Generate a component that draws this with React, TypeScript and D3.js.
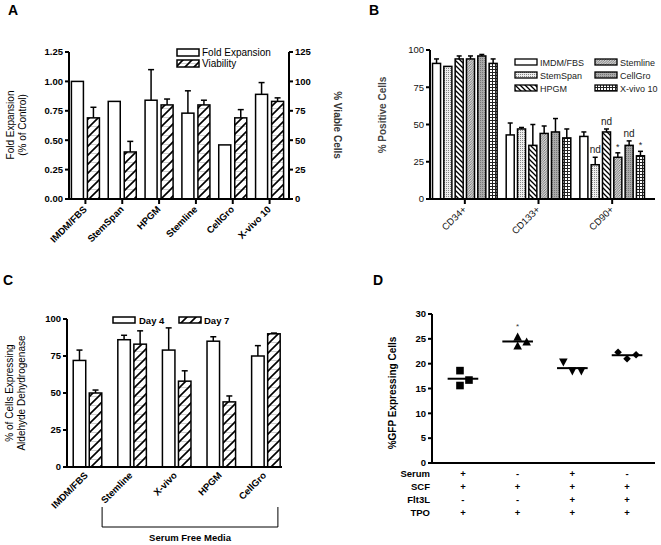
import * as d3 from 'd3';

const FONT = "'Liberation Sans', Arial, Helvetica, sans-serif";

// ---- Panel A data ----
const mediaA = ['IMDM/FBS', 'StemSpan', 'HPGM', 'Stemline', 'CellGro', 'X-vivo 10'];
const foldExp = [1.0, 0.83, 0.84, 0.73, 0.46, 0.89];
const foldErr = [0, 0, 0.26, 0.19, 0, 0.1];
const viability = [69, 40, 80, 80, 69, 83];
const viabErr = [9, 9, 5, 4, 7, 3];
const ticksA = [0, 0.25, 0.5, 0.75, 1.0, 1.25];
const ticksAR = [0, 25, 50, 75, 100, 125];

// ---- Panel B data ----
const markersB = ['CD34+', 'CD133+', 'CD90+'];
const mediaB = ['IMDM/FBS', 'StemSpan', 'HPGM', 'Stemline', 'CellGro', 'X-vivo 10'];
const cd34 = [91, 89, 94, 94, 96, 91];
const cd34Err = [3, 0, 2, 2, 1, 3];
const cd133 = [43, 47, 36, 44, 45, 41];
const cd133Err = [8, 1, 14, 5, 9, 6];
const cd90 = [42, 23, 45, 28, 36, 29];
const cd90Err = [3, 5, 2, 3, 3, 3];
const cd90Marks = ['', 'nd', 'nd', '*', 'nd', '*'];
const ticksB = [0, 25, 50, 75, 100];

// ---- Panel C data ----
const mediaC = ['IMDM/FBS', 'Stemline', 'X-vivo', 'HPGM', 'CellGro'];
const day4 = [72, 86, 79, 85, 75];
const day4Err = [7, 3, 15, 3, 7];
const day7 = [50, 83, 58, 44, 90];
const day7Err = [2, 9, 7, 4, 0.5];
const ticksC = [0, 25, 50, 75, 100];

// ---- Panel D data ----
const conditionsD = ['c1', 'c2', 'c3', 'c4'];
const gfp = [
  [18.6, 15.6, 16.7],
  [25.4, 23.6, 24.4],
  [20.3, 18.5, 18.5],
  [22.3, 21.0, 21.8],
];
const gfpSlots = [
  [-0.33, -0.33, 0.67],
  [0, 0, 1],
  [-1, 0, 1],
  [-1, 0, 1],
];
const gfpMarks = ['', '*', '', ''];
const factorNames = ['Serum', 'SCF', 'Flt3L', 'TPO'];
const serum = ['+', '-', '+', '-'];
const scf = ['+', '+', '+', '+'];
const flt3l = ['-', '-', '+', '+'];
const tpo = ['+', '+', '+', '+'];
const ticksD = [0, 5, 10, 15, 20, 25, 30];

type Scale = d3.ScaleLinear<number, number>;

function YAxis({ y, x, ticks, fmt, side = 'left', bold = true, color = '#000' }: {
  y: Scale; x: number; ticks: number[]; fmt: (v: number) => string; side?: 'left' | 'right'; bold?: boolean; color?: string;
}) {
  const d = side === 'left' ? -1 : 1;
  const [lo, hi] = y.domain();
  return (
    <g>
      <line x1={x} x2={x} y1={y(lo) + 1} y2={y(hi)} stroke="#000" strokeWidth={2} />
      {ticks.map((t) => (
        <g key={t}>
          <line x1={x} x2={x + d * 4} y1={y(t)} y2={y(t)} stroke="#000" strokeWidth={2} />
          <text x={x + d * 6} y={y(t)} dy="0.35em" fontSize={9.5} fontWeight={bold ? 'bold' : 'normal'}
            fill={color} textAnchor={side === 'left' ? 'end' : 'start'}>{fmt(t)}</text>
        </g>
      ))}
    </g>
  );
}

function Bar({ x, w, y0, y1, fill }: { x: number; w: number; y0: number; y1: number; fill: string }) {
  return <rect x={x} y={y1} width={w} height={y0 - y1} fill={fill} stroke="#000" strokeWidth={1.5} />;
}

function ErrBar({ cx, yTop, yEnd, cap = 6 }: { cx: number; yTop: number; yEnd: number; cap?: number }) {
  if (Math.abs(yTop - yEnd) < 0.5) return null;
  return (
    <g stroke="#000" strokeWidth={1.5}>
      <line x1={cx} x2={cx} y1={yTop} y2={yEnd} />
      <line x1={cx - cap / 2} x2={cx + cap / 2} y1={yEnd} y2={yEnd} />
    </g>
  );
}

function Patterns() {
  return (
    <defs>
      <pattern id="hatchA" patternUnits="userSpaceOnUse" width={9} height={9}>
        <rect width={9} height={9} fill="#fff" />
        <line x1={0} x2={9} y1={0.5} y2={0.5} stroke="#bbb" strokeWidth={0.7} />
        <path d="M0,9 L9,0 M-2,2 L2,-2 M7,11 L11,7" stroke="#000" strokeWidth={1.6} />
      </pattern>
      <pattern id="pStemSpan" patternUnits="userSpaceOnUse" width={2} height={2}>
        <rect width={2} height={2} fill="#eee" />
        <rect width={1} height={1} fill="#888" />
      </pattern>
      <pattern id="pHPGM" patternUnits="userSpaceOnUse" width={5} height={5}>
        <rect width={5} height={5} fill="#fff" />
        <path d="M0,0 L5,5 M-2,3 L2,7 M3,-2 L7,2" stroke="#000" strokeWidth={1.3} />
      </pattern>
      <pattern id="pStemline" patternUnits="userSpaceOnUse" width={2.5} height={2.5}>
        <rect width={2.5} height={2.5} fill="#d4d4d4" />
        <path d="M0,2.5 L2.5,0 M-1,1 L1,-1 M1.5,3.5 L3.5,1.5" stroke="#555" strokeWidth={0.7} />
      </pattern>
      <pattern id="pCellGro" patternUnits="userSpaceOnUse" width={2} height={2}>
        <rect width={2} height={2} fill="#aaa" />
        <rect width={1} height={1} fill="#777" />
      </pattern>
      <pattern id="pXvivo" patternUnits="userSpaceOnUse" width={3} height={3}>
        <rect width={3} height={3} fill="#fff" />
        <path d="M0,0.5 L3,0.5 M0.5,0 L0.5,3" stroke="#222" strokeWidth={1} />
      </pattern>
    </defs>
  );
}

const fillsB = ['#fff', 'url(#pStemSpan)', 'url(#pHPGM)', 'url(#pStemline)', 'url(#pCellGro)', 'url(#pXvivo)'];

function PanelA() {
  const y = d3.scaleLinear().domain([0, 1.25]).range([199, 52]);
  const yR = d3.scaleLinear().domain([0, 125]).range([199, 52]);
  const x = d3.scaleBand<string>().domain(mediaA).range([67, 288]);
  const inner = d3.scaleBand<string>().domain(['fold', 'viab']).range([0, x.bandwidth()]).paddingInner(0.25).paddingOuter(0.275);
  const bw = inner.bandwidth();
  return (
    <g>
      <text x={8} y={15} fontSize={14} fontWeight="bold">A</text>
      {mediaA.map((m, i) => {
        const x0 = x(m)!;
        const fx = x0 + inner('fold')!;
        const vx = x0 + inner('viab')!;
        return (
          <g key={m}>
            <ErrBar cx={fx + bw / 2} yTop={y(foldExp[i])} yEnd={y(foldExp[i] + foldErr[i])} />
            <ErrBar cx={vx + bw / 2} yTop={yR(viability[i])} yEnd={yR(viability[i] + viabErr[i])} />
            <Bar x={fx} w={bw} y0={y(0)} y1={y(foldExp[i])} fill="#fff" />
            <Bar x={vx} w={bw} y0={y(0)} y1={yR(viability[i])} fill="url(#hatchA)" />
            <line x1={x0 + x.bandwidth() / 2} x2={x0 + x.bandwidth() / 2} y1={199} y2={204} stroke="#000" strokeWidth={2} />
            <text transform={`translate(${x0 + x.bandwidth() / 2 + 2},${210}) rotate(-45)`} textAnchor="end"
              fontSize={9.5} fontWeight="bold">{m}</text>
          </g>
        );
      })}
      <line x1={68} x2={290} y1={199} y2={199} stroke="#000" strokeWidth={2} />
      <YAxis y={y} x={69} ticks={ticksA} fmt={d3.format('.2f')} />
      <YAxis y={yR} x={289} ticks={ticksAR} fmt={d3.format('d')} side="right" />
      <text transform="translate(14,125) rotate(-90)" textAnchor="middle" fontSize={10}>Fold Expansion</text>
      <text transform="translate(26,125) rotate(-90)" textAnchor="middle" fontSize={10}>(% of Control)</text>
      <text transform="translate(334,125) rotate(90)" textAnchor="middle" fontSize={10} fontWeight="bold" fill="#333">% Viable Cells</text>
      {/* legend */}
      <rect x={177} y={49} width={22} height={7} fill="#fff" stroke="#000" strokeWidth={1.5} />
      <text x={202} y={56} fontSize={10}>Fold Expansion</text>
      <rect x={177} y={60} width={22} height={7} fill="url(#hatchA)" stroke="#000" strokeWidth={1.5} />
      <text x={202} y={67} fontSize={10}>Viability</text>
    </g>
  );
}

function PanelB() {
  const y = d3.scaleLinear().domain([0, 100]).range([199, 50]);
  const x = d3.scaleBand<string>().domain(markersB).range([428, 649]);
  const inner = d3.scaleBand<string>().domain(mediaB).range([0, x.bandwidth()]).paddingInner(0.29).paddingOuter(0.4);
  const bw = inner.bandwidth();
  const vals = [cd34, cd133, cd90];
  const errs = [cd34Err, cd133Err, cd90Err];
  return (
    <g>
      <text x={369} y={15} fontSize={14} fontWeight="bold">B</text>
      {markersB.map((mk, gi) => {
        const x0 = x(mk)!;
        return (
          <g key={mk}>
            {mediaB.map((m, i) => {
              const bx = x0 + inner(m)!;
              const v = vals[gi][i];
              const e = errs[gi][i];
              const mark = gi === 2 ? cd90Marks[i] : '';
              return (
                <g key={m}>
                  <ErrBar cx={bx + bw / 2} yTop={y(v)} yEnd={y(v + e)} cap={5} />
                  <Bar x={bx} w={bw} y0={y(0)} y1={y(v)} fill={fillsB[i]} />
                  {mark && (
                    <text x={bx + bw / 2} y={y(v + e) - (mark === '*' ? 3 : 4)} textAnchor="middle"
                      fontSize={mark === '*' ? 9 : 10} fill="#222">{mark}</text>
                  )}
                </g>
              );
            })}
            <line x1={x0 + x.bandwidth() / 2} x2={x0 + x.bandwidth() / 2} y1={199} y2={204} stroke="#000" strokeWidth={2} />
            <text transform={`translate(${x0 + x.bandwidth() / 2 + 2},${210}) rotate(-45)`} textAnchor="end"
              fontSize={9.5} fill="#111">{mk}</text>
          </g>
        );
      })}
      <line x1={429} x2={655} y1={199} y2={199} stroke="#000" strokeWidth={2} />
      <YAxis y={y} x={430} ticks={ticksB} fmt={d3.format('d')} bold={false} color="#111" />
      <text transform="translate(386,115) rotate(-90)" textAnchor="middle" fontSize={10} fontWeight="bold" fill="#444">% Positive Cells</text>
      {mediaB.map((m, i) => {
        const col = Math.floor(i / 3);
        const row = i % 3;
        const lx = col === 0 ? 515 : 595;
        const ly = 59 + row * 13;
        return (
          <g key={m}>
            <rect x={lx} y={ly} width={22} height={6} fill={fillsB[i]} stroke="#000" strokeWidth={1.3} />
            <text x={lx + 25} y={ly + 6.5} fontSize={9} fill="#222">{m}</text>
          </g>
        );
      })}
    </g>
  );
}

function PanelC() {
  const y = d3.scaleLinear().domain([0, 100]).range([467, 319]);
  const x = d3.scaleBand<string>().domain(mediaC).range([65.2, 288.2]);
  const inner = d3.scaleBand<string>().domain(['d4', 'd7']).range([0, x.bandwidth()]).paddingInner(0.22).paddingOuter(0.5);
  const bw = inner.bandwidth();
  const cx = (m: string) => x(m)! + x.bandwidth() / 2;
  const bx0 = cx(mediaC[1]) - 30;
  const bx1 = cx(mediaC[mediaC.length - 1]) + 12;
  return (
    <g>
      <text x={3} y={285} fontSize={14} fontWeight="bold">C</text>
      {mediaC.map((m, i) => {
        const x0 = x(m)!;
        const ax = x0 + inner('d4')!;
        const bx = x0 + inner('d7')!;
        return (
          <g key={m}>
            <ErrBar cx={ax + bw / 2} yTop={y(day4[i])} yEnd={y(day4[i] + day4Err[i])} />
            <ErrBar cx={bx + bw / 2} yTop={y(day7[i])} yEnd={y(day7[i] + day7Err[i])} />
            <Bar x={ax} w={bw} y0={y(0)} y1={y(day4[i])} fill="#fff" />
            <Bar x={bx} w={bw} y0={y(0)} y1={y(day7[i])} fill="url(#hatchA)" />
            <text transform={`translate(${cx(m) + 1},${476}) rotate(-45)`} textAnchor="end"
              fontSize={9.5} fontWeight="bold">{m}</text>
          </g>
        );
      })}
      <line x1={66} x2={282} y1={467} y2={467} stroke="#000" strokeWidth={2} />
      <YAxis y={y} x={67} ticks={ticksC} fmt={d3.format('d')} />
      <text transform="translate(13,393) rotate(-90)" textAnchor="middle" fontSize={10}>% of Cells Expressing</text>
      <text transform="translate(25,393) rotate(-90)" textAnchor="middle" fontSize={10}>Aldehyde Dehydrogenase</text>
      {/* bracket */}
      <path d={`M${bx0},507 V527 H${bx1} V507`} fill="none" stroke="#000" strokeWidth={1} />
      <text x={(bx0 + bx1) / 2} y={541} textAnchor="middle" fontSize={9.5} fontWeight="bold">Serum  Free  Media</text>
      {/* legend */}
      <rect x={113} y={317} width={22} height={6} fill="#fff" stroke="#000" strokeWidth={1.5} />
      <text x={139} y={323.5} fontSize={9.5} fontWeight="bold">Day 4</text>
      <rect x={179} y={317} width={22} height={6} fill="url(#hatchA)" stroke="#000" strokeWidth={1.5} />
      <text x={204} y={323.5} fontSize={9.5} fontWeight="bold">Day 7</text>
    </g>
  );
}

function Marker({ kind, cx, cy }: { kind: number; cx: number; cy: number }) {
  const s = 3.8;
  if (kind === 0) return <rect x={cx - s} y={cy - s} width={2 * s} height={2 * s} fill="#000" />;
  if (kind === 1) return <path d={`M${cx},${cy - s - 0.5} L${cx + s + 0.5},${cy + s} L${cx - s - 0.5},${cy + s} Z`} fill="#000" />;
  if (kind === 2) return <path d={`M${cx},${cy + s + 0.5} L${cx + s + 0.5},${cy - s} L${cx - s - 0.5},${cy - s} Z`} fill="#000" />;
  return <path d={`M${cx},${cy - s} L${cx + s},${cy} L${cx},${cy + s} L${cx - s},${cy} Z`} fill="#000" />;
}

function PanelD() {
  const y = d3.scaleLinear().domain([0, 30]).range([463, 314]);
  const x = d3.scaleBand<string>().domain(conditionsD).range([435.6, 654.4]);
  const cx = (c: string) => x(c)! + x.bandwidth() / 2;
  const rows = [serum, scf, flt3l, tpo];
  return (
    <g>
      <text x={373} y={285} fontSize={14} fontWeight="bold">D</text>
      {conditionsD.map((c, gi) => {
        const vals = gfp[gi];
        const mean = d3.mean(vals)!;
        const half = x.bandwidth() * 0.28;
        return (
          <g key={c}>
            {vals.map((v, k) => (
              <Marker key={k} kind={gi} cx={cx(c) + gfpSlots[gi][k] * 9} cy={y(v)} />
            ))}
            <line x1={cx(c) - half} x2={cx(c) + half} y1={y(mean)} y2={y(mean)} stroke="#000" strokeWidth={2} />
            {gfpMarks[gi] && (
              <text x={cx(c)} y={y(d3.max(vals)!) - 8} textAnchor="middle" fontSize={8} fill="#333">{gfpMarks[gi]}</text>
            )}
          </g>
        );
      })}
      <line x1={431} x2={655} y1={463} y2={463} stroke="#000" strokeWidth={2} />
      <YAxis y={y} x={432} ticks={ticksD} fmt={d3.format('d')} />
      <text transform="translate(396,393) rotate(-90)" textAnchor="middle" fontSize={10} fontWeight="bold">%GFP Expressing Cells</text>
      {factorNames.map((f, ri) => (
        <g key={f}>
          <text x={430} y={477 + ri * 13} textAnchor="end" fontSize={9.5} fontWeight="bold">{f}</text>
          {conditionsD.map((c, gi) => (
            <text key={c} x={cx(c)} y={477 + ri * 13} textAnchor="middle" fontSize={9.5} fontWeight="bold">{rows[ri][gi]}</text>
          ))}
        </g>
      ))}
    </g>
  );
}

export default function App() {
  return (
    <svg width={661} height={545} viewBox="0 0 661 545"
      style={{ position: 'absolute', left: 0, top: 0, background: '#fff', fontFamily: FONT }}>
      <Patterns />
      <rect width={661} height={545} fill="#fff" />
      <PanelA />
      <PanelB />
      <PanelC />
      <PanelD />
    </svg>
  );
}
